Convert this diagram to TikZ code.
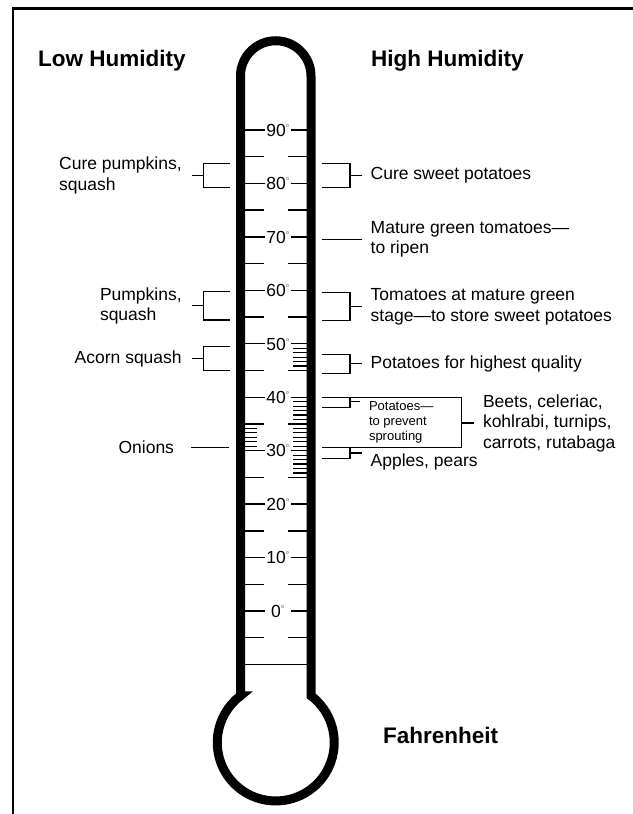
\documentclass[tikz,border=0pt]{standalone}
\usepackage{fontspec}
\setmainfont{Liberation Sans}
\usetikzlibrary{positioning}

\newcommand{\degmark}{\rlap{\raisebox{9pt}{\fontsize{6}{6}\selectfont$\circ$}}}

\begin{document}
\begin{tikzpicture}[
    x=1pt, y=1pt,
    lbl/.style={font=\fontsize{17.5}{20.5}\selectfont, inner ysep=0pt, outer sep=0pt, align=left},
    rlbl/.style={lbl, anchor=west, inner xsep=9pt},
    llbl/.style={lbl, anchor=east, inner xsep=10pt},
    ttl/.style={font=\fontsize{22.5}{26}\selectfont\bfseries, anchor=base west, inner sep=0pt},
    deglbl/.style={font=\fontsize{17.5}{20.5}\selectfont, inner sep=0pt, text height=12.6pt, text depth=0pt},
    tickline/.style={line width=1.4pt},
    hatchline/.style={line width=1.2pt},
    brkline/.style={line width=1.1pt}
]
    \useasboundingbox (0,0) rectangle (632,814);
    \draw[line width=2.6pt] (13,-2) -- (13,805.5) -- (634,805.5);

    \draw[line width=9pt] (240.5,118.2) -- (240.5,738) arc[start angle=180, end angle=0, radius=35.25]
        -- (311,118.2) arc[start angle=52.95, end angle=-232.95, radius=58.5] -- cycle;
    \draw[tickline] (245,149.6) -- (306.5,149.6);

    \foreach \t in {0,10,...,90} {
        \draw[tickline] (245,{203+5.344*\t}) -- (264.5,{203+5.344*\t});
        \draw[tickline] (290.5,{203+5.344*\t}) -- (306.5,{203+5.344*\t});
        \node[deglbl] (deg\t) at (276,{203+5.344*\t}) {\t\degmark};
    }
    \foreach \t in {-5,5,...,85} {
        \draw[tickline] (245,{203+5.344*\t}) -- (264,{203+5.344*\t});
        \draw[tickline] (288,{203+5.344*\t}) -- (306.5,{203+5.344*\t});
    }
    \foreach \b in {25,30,35,45}
        \foreach \k in {1,...,5}
            \draw[hatchline] (293.3,{203+5.344*(\b+\k*5/6)}) -- (306.5,{203+5.344*(\b+\k*5/6)});
    \foreach \k in {1,...,5}
        \draw[hatchline] (245,{203+5.344*(30+\k*5/6)}) -- (257,{203+5.344*(30+\k*5/6)});

    \node[ttl] (lowhum) at (38,747.3) {Low Humidity};
    \node[ttl] (highhum) at (371,747.3) {High Humidity};
    \node[ttl] (fahr) at (383,70.7) {Fahrenheit};

    \node[llbl] (curepump) at (191.7,638.5) {Cure pumpkins,\\squash};
    \node[llbl] (pumpsq) at (191.7,508.2) {Pumpkins,\\squash};
    \node[llbl] (acorn) at (191.7,455.3) {Acorn squash};
    \node[llbl, inner xsep=17pt] (onions) at (191,366.5) {Onions};

    \draw[brkline] (230,650.7) -| (203.3,626.3) -- (230,626.3);
    \draw[brkline] (curepump.east) -- (203.3,638.5);
    \draw[brkline] (230,522.3) -| (203.3,494) -- (230,494);
    \draw[brkline] (pumpsq.east) -- (203.3,508.2);
    \draw[brkline] (230,467.3) -| (203.3,443.3) -- (230,443.3);
    \draw[brkline] (acorn.east) -- (203.3,455.3);
    \draw[brkline] (onions.east) -- (229.3,366.5);

    \node[rlbl] (curesweet) at (361.7,638.5) {Cure sweet potatoes};
    \node[rlbl] (matgreen) at (361.7,574.7) {Mature green tomatoes—\\to ripen};
    \node[rlbl] (tomstore) at (361.7,507.3) {Tomatoes at mature green\\stage—to store sweet potatoes};
    \node[rlbl] (pothigh) at (361.7,450.2) {Potatoes for highest quality};
    \node[rlbl, anchor=north west, font=\fontsize{13}{14.8}\selectfont] (potsprout) at (360,412.3) {Potatoes—\\to prevent\\sprouting};
    \node[rlbl] (beets) at (474,391) {Beets, celeriac,\\kohlrabi, turnips,\\carrots, rutabaga};
    \node[rlbl, anchor=base west] (apples) at (361.7,347.3) {Apples, pears};

    \draw[brkline] (321.7,650.7) -| (350,626.3) -- (321.7,626.3);
    \draw[brkline] (350,638.5) -- (curesweet.west);
    \draw[brkline] (321.7,574.7) -- (matgreen.west);
    \draw[brkline] (321.7,521.3) -| (350,493.3) -- (321.7,493.3);
    \draw[brkline] (350,507.3) -- (tomstore.west);
    \draw[brkline] (321.7,459.7) -| (350,440.7) -- (321.7,440.7);
    \draw[brkline] (350,450.2) -- (pothigh.west);
    \draw[brkline] (321.7,416.3) -- (461.7,416.3) -- (461.7,366.3) -- (321.7,366.3);
    \draw[brkline] (350,416.3) -- (350,406.3) -- (321.7,406.3);
    \draw[brkline] (350,412.3) -- (potsprout.north west);
    \draw[brkline] (461.7,391) -- (beets.west);
    \draw[brkline] (350,366.3) -- (350,355.7) -- (321.7,355.7);
    \draw[brkline] (350,361) -- (apples.base west |- 350,361);
\end{tikzpicture}
\end{document}
